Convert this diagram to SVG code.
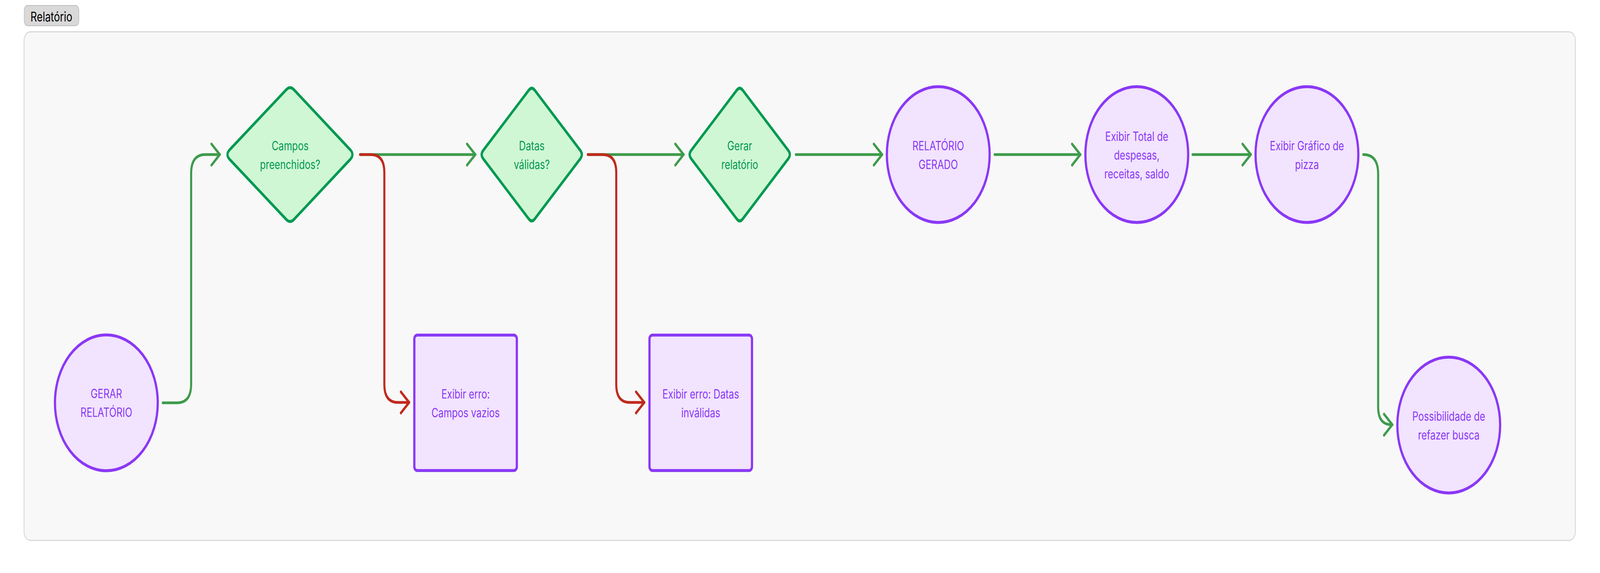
<svg xmlns="http://www.w3.org/2000/svg" width="5416" height="1468" viewBox="0 0 5416 1468" preserveAspectRatio="none" style="width:100vw;height:100vh;display:block">
<style>
text{font-family:Inter,"Liberation Sans",sans-serif;font-size:32px;text-anchor:middle}
.dia{fill:#cff7d3;stroke:#009951;stroke-width:7.5;stroke-linejoin:round}
.dt{fill:#009951}
.pn{fill:#f2e3ff;stroke:#8a38f5;stroke-width:7.5}
.pt{fill:#8a38f5}
.cg{fill:none;stroke:#3e9b4b;stroke-width:7;stroke-linecap:round;stroke-linejoin:round}
.cr{fill:none;stroke:#bf2a1c;stroke-width:7;stroke-linecap:round;stroke-linejoin:round}
</style>
<defs>
<marker id="ag" markerUnits="userSpaceOnUse" markerWidth="40" markerHeight="70" refX="34" refY="35" orient="auto" overflow="visible"><path d="M6 8 L34 35 L6 62" fill="none" stroke="#3e9b4b" stroke-width="7" stroke-linecap="round" stroke-linejoin="round"/></marker>
<marker id="ar" markerUnits="userSpaceOnUse" markerWidth="40" markerHeight="70" refX="34" refY="35" orient="auto" overflow="visible"><path d="M6 8 L34 35 L6 62" fill="none" stroke="#bf2a1c" stroke-width="7" stroke-linecap="round" stroke-linejoin="round"/></marker>
</defs>
<rect width="5416" height="1468" fill="#ffffff"/>
<g id="section">
<rect x="81.5" y="81.5" width="5251" height="1303" rx="22" fill="#f8f8f8" stroke="#d9d9d9" stroke-width="3"/>
<rect x="82" y="14" width="185" height="52" rx="12" fill="#d9d9d9" stroke="#bdbdbd" stroke-width="2"/>
<text x="174" y="55" style="font-size:34px;fill:#000000">Relatório</text>
</g>
<g id="connectors">
<path class="cg" d="M551 1032 H599 Q647 1032 647 984 V444 Q647 396 695 396 H744" marker-end="url(#ag)"/>
<path class="cg" d="M1219 396 H1609" marker-end="url(#ag)"/>
<path class="cr" d="M1219 396 H1255 Q1301 396 1301 442 V985 Q1301 1031 1347 1031 H1385" marker-end="url(#ar)"/>
<path class="cg" d="M1990 396 H2314" marker-end="url(#ag)"/>
<path class="cr" d="M1990 396 H2040 Q2086 396 2086 442 V985 Q2086 1031 2132 1031 H2181" marker-end="url(#ar)"/>
<path class="cg" d="M2694 396 H2986" marker-end="url(#ag)"/>
<path class="cg" d="M3367 396 H3657" marker-end="url(#ag)"/>
<path class="cg" d="M4037 396 H4234" marker-end="url(#ag)"/>
<path class="cg" d="M4615 396 Q4665 396 4665 446 V1043 Q4665 1088 4710 1088 H4713" marker-end="url(#ag)"/>
</g>
<g id="gerar-relatorio">
<circle class="pn" cx="360" cy="1032" r="174"/>
<text class="pt" x="360" y="1020">GERAR</text>
<text class="pt" x="360" y="1068">RELATÓRIO</text>
</g>
<g id="campos-preenchidos">
<path class="dia" d="M970 229 Q982 220 994 229 L1186 384 Q1200 396 1186 408 L994 563 Q982 572 970 563 L777 408 Q763 396 777 384 Z"/>
<text class="dt" x="982" y="385">Campos</text>
<text class="dt" x="982" y="433">preenchidos?</text>
</g>
<g id="datas-validas">
<path class="dia" d="M1790 231 Q1800 221 1810 231 L1964 385 Q1975 396 1964 407 L1810 561 Q1800 571 1790 561 L1636 407 Q1625 396 1636 385 Z"/>
<text class="dt" x="1800" y="385">Datas</text>
<text class="dt" x="1800" y="433">válidas?</text>
</g>
<g id="gerar-relatorio-decisao">
<path class="dia" d="M2494 231 Q2504 221 2514 231 L2668 385 Q2679 396 2668 407 L2514 561 Q2504 571 2494 561 L2340 407 Q2329 396 2340 385 Z"/>
<text class="dt" x="2504" y="385">Gerar</text>
<text class="dt" x="2504" y="433">relatório</text>
</g>
<g id="erro-campos">
<rect class="pn" x="1402.5" y="858.5" width="347" height="347" rx="10"/>
<text class="pt" x="1576" y="1021">Exibir erro:</text>
<text class="pt" x="1576" y="1069">Campos vazios</text>
</g>
<g id="erro-datas">
<rect class="pn" x="2198.5" y="858.5" width="347" height="347" rx="10"/>
<text class="pt" x="2372" y="1021">Exibir erro: Datas</text>
<text class="pt" x="2372" y="1069">inválidas</text>
</g>
<g id="relatorio-gerado">
<circle class="pn" cx="3176" cy="396" r="174"/>
<text class="pt" x="3176" y="385">RELATÓRIO</text>
<text class="pt" x="3176" y="433">GERADO</text>
</g>
<g id="exibir-total">
<circle class="pn" cx="3848" cy="396" r="174"/>
<text class="pt" x="3848" y="361">Exibir Total de</text>
<text class="pt" x="3848" y="409">despesas,</text>
<text class="pt" x="3848" y="457">receitas, saldo</text>
</g>
<g id="exibir-grafico">
<circle class="pn" cx="4424" cy="396" r="174"/>
<text class="pt" x="4424" y="385">Exibir Gráfico de</text>
<text class="pt" x="4424" y="433">pizza</text>
</g>
<g id="refazer-busca">
<circle class="pn" cx="4904" cy="1089" r="174"/>
<text class="pt" x="4904" y="1078">Possibilidade de</text>
<text class="pt" x="4904" y="1126">refazer busca</text>
</g>
</svg>
